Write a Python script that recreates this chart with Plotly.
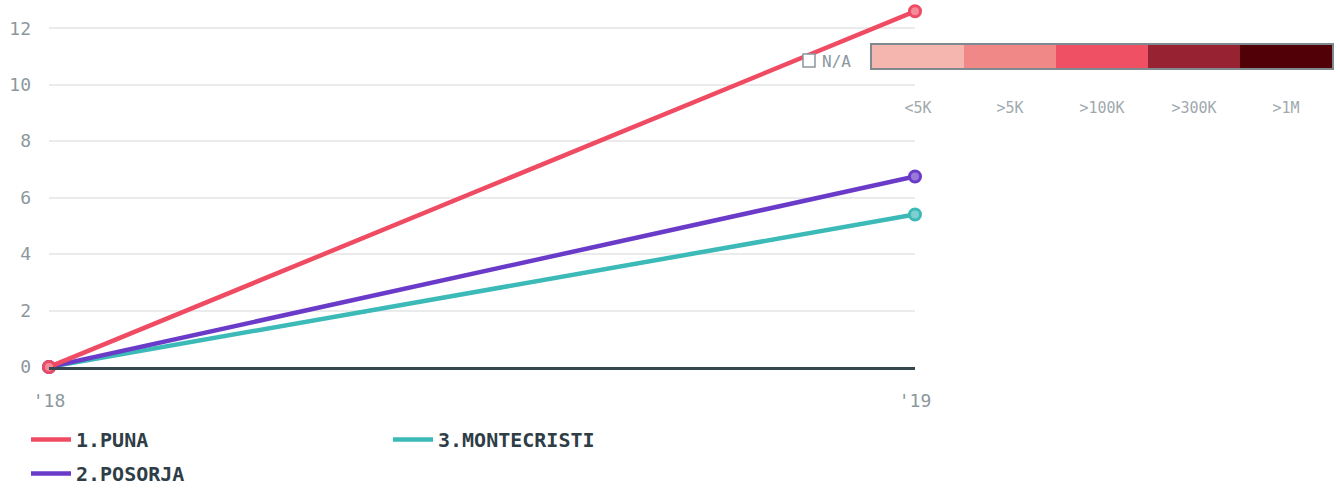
import plotly.graph_objects as go

years = ["'18", "'19"]
series_names = ["1.PUNA", "2.POSORJA", "3.MONTECRISTI"]
puna = [0, 12.6]
posorja = [0, 6.75]
montecristi = [0, 5.4]
series_colors = ["#ef4b63", "#6a3bc8", "#3bbab8"]
marker_fills = ["#f48a9a", "#9a7ad8", "#7fd0ce"]

scale_labels = ["<5K", ">5K", ">100K", ">300K", ">1M"]
scale_colors = ["#f4b6ae", "#f08888", "#f05064", "#962232", "#520008"]
scale_index = [0, 1, 2, 3, 4]

W, H = 1340, 488
L, R, T, B = 49, 8, 0, 121
pw = W - L - R
ph = H - T - B

tick_font = dict(family="DejaVu Sans Mono", size=18, color="#8c979d")
legend_font = dict(family="DejaVu Sans Mono", size=20, color="#2f3e46")

fig = go.Figure()

values = [puna, posorja, montecristi]
legend_of = ["legend", "legend", "legend2"]
# draw teal first, then purple, then red on top
for i in [2, 1, 0]:
    fig.add_trace(go.Scatter(
        x=years, y=values[i], name="<b>" + series_names[i] + "</b>",
        mode="lines",
        line=dict(color=series_colors[i], width=4.5),
        cliponaxis=False, legend=legend_of[i], legendgroup=series_names[i],
        legendrank=i, hoverinfo="skip",
    ))
    fig.add_trace(go.Scatter(
        x=years, y=values[i], name=series_names[i], mode="markers",
        marker=dict(size=11, color=marker_fills[i], line=dict(color=series_colors[i], width=3)),
        cliponaxis=False, showlegend=False, legendgroup=series_names[i], hoverinfo="skip",
    ))

n = len(scale_colors)
cs = []
for k, c in enumerate(scale_colors):
    cs.append([k / n, c])
    cs.append([(k + 1) / n, c])
fig.add_trace(go.Heatmap(
    z=[scale_index], x=scale_index, y=[0], xaxis="x2", yaxis="y2",
    colorscale=cs, zmin=-0.5, zmax=n - 0.5, showscale=False, hoverinfo="skip",
))

x_main_end = 866 / pw
bar_x0 = (872 - L) / pw
fig.update_layout(
    width=W, height=H,
    margin=dict(l=L, r=R, t=T, b=B, autoexpand=False),
    paper_bgcolor="white", plot_bgcolor="white",
    xaxis=dict(domain=[0, x_main_end], type="category", range=[0, 1], automargin=False,
               showgrid=False, showline=True, linecolor="#37474f", linewidth=3,
               ticks="", tickfont=tick_font, ticklabelstandoff=15, zeroline=False),
    yaxis=dict(range=[0, 13], tickvals=[0, 2, 4, 6, 8, 10, 12], automargin=False,
               showgrid=True, gridcolor="#ebebeb", gridwidth=1.5,
               zeroline=False, showline=False, ticks="", tickfont=tick_font,
               ticklabelstandoff=17),
    xaxis2=dict(domain=[bar_x0, 1], anchor="y2", range=[-0.5, n - 0.5], automargin=False,
                tickvals=scale_index, ticktext=scale_labels, showgrid=False,
                zeroline=False, showline=True, mirror=True, linecolor="#7f8a90",
                linewidth=1.5, ticks="", ticklabelstandoff=25,
                tickfont=dict(family="DejaVu Sans Mono", size=15, color="#a0a9ae")),
    yaxis2=dict(domain=[(ph - 68) / ph, (ph - 45) / ph], anchor="x2", range=[-0.5, 0.5],
                automargin=False,
                showticklabels=False, showgrid=False, zeroline=False, showline=True,
                mirror=True, linecolor="#7f8a90", linewidth=1.5, ticks=""),
    legend=dict(orientation="v", x=(26 - L) / pw, y=(ph - 420) / ph, xanchor="left",
                yanchor="top", font=legend_font, tracegroupgap=5, itemwidth=40,
                bgcolor="rgba(0,0,0,0)"),
    legend2=dict(orientation="v", x=(388 - L) / pw, y=(ph - 420) / ph, xanchor="left",
                 yanchor="top", font=legend_font, itemwidth=40,
                 bgcolor="rgba(0,0,0,0)"),
    showlegend=True,
)

# N/A marker of the colour scale
fig.add_shape(type="rect", xref="paper", yref="paper",
              x0=(803 - L) / pw, x1=(815 - L) / pw,
              y0=(ph - 67) / ph, y1=(ph - 54) / ph,
              line=dict(color="#8c979d", width=1.5), fillcolor="white")
fig.add_annotation(text="N/A", xref="paper", yref="paper",
                   x=(820 - L) / pw, y=(ph - 61) / ph, xanchor="left", yanchor="middle",
                   showarrow=False, font=dict(family="DejaVu Sans Mono", size=16, color="#8c979d"))

fig.write_html("out.html", config={"displayModeBar": False},
               post_script="document.body.style.margin='0';document.body.style.overflow='hidden';")
